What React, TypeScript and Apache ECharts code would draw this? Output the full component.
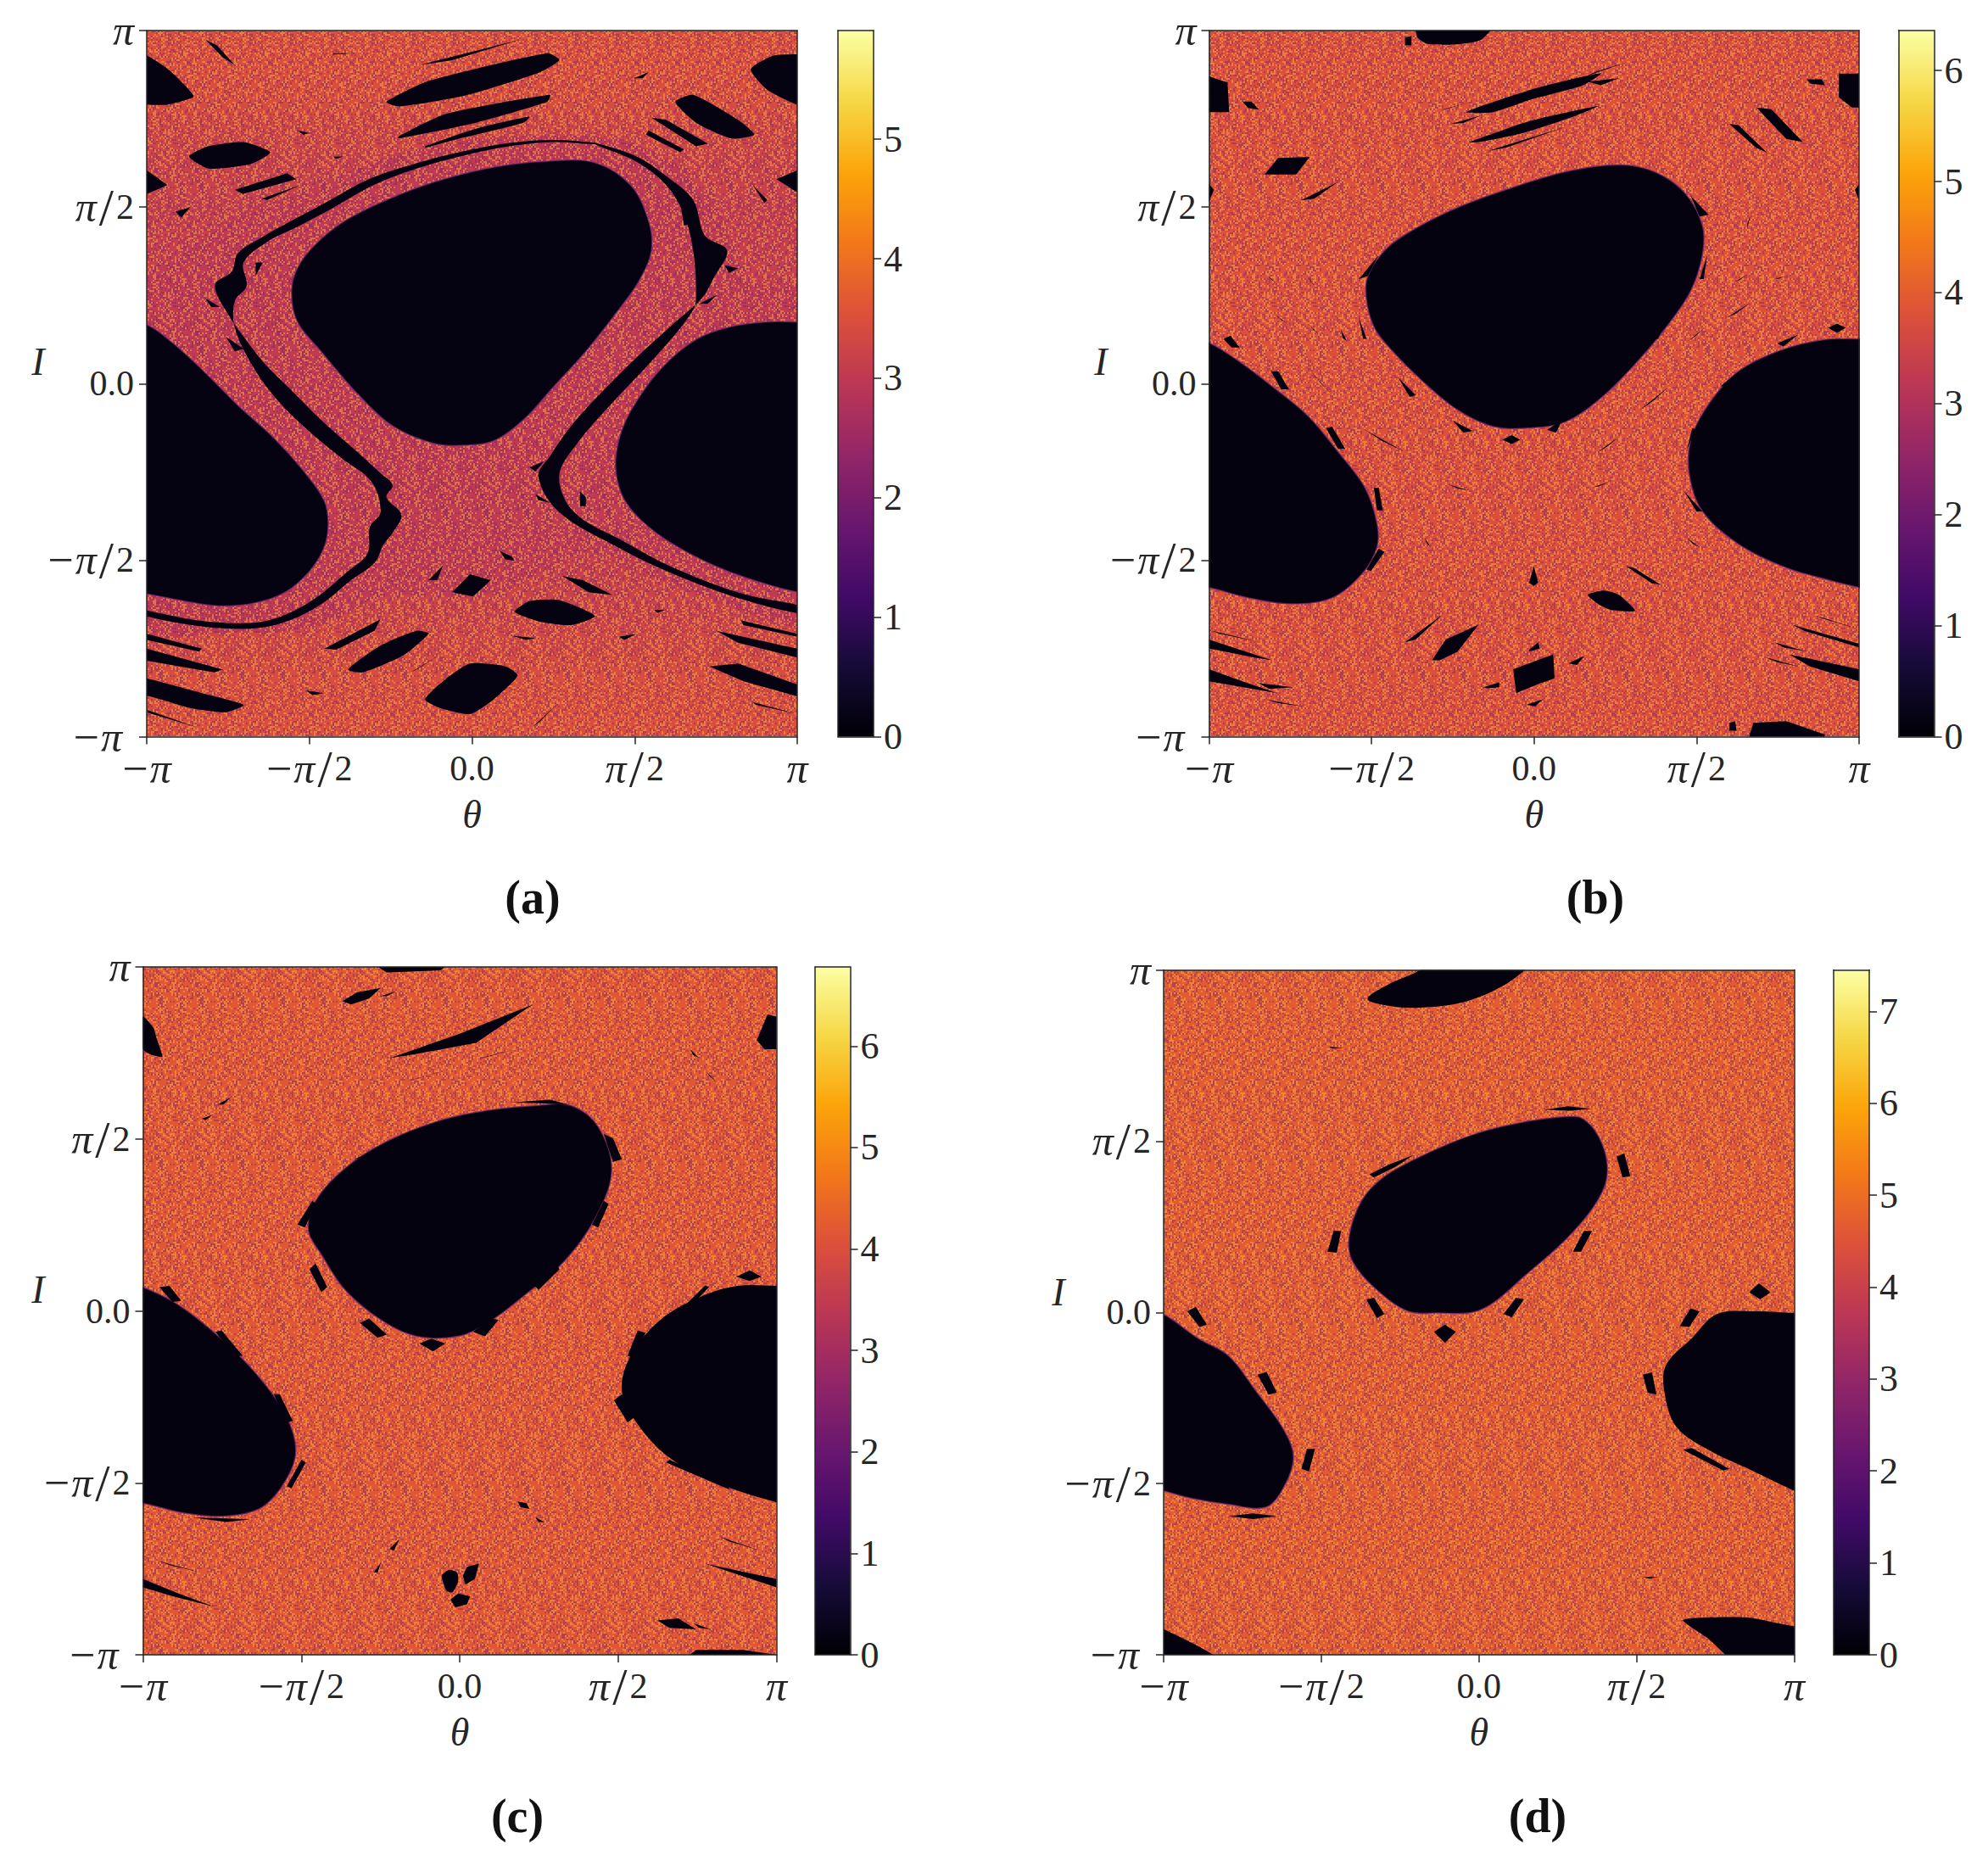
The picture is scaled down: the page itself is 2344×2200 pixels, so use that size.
import React, { useEffect, useRef } from "react";
import * as echarts from "echarts";

// All coordinates are [θ, I] pairs in hundredths of π (axis range -100..100).
const tickValues = [-100, -50, 0, 50, 100];
const tickLabels = ["−π", "−π/2", "0.0", "π/2", "π"];

// Colour map of the colour bars (inferno)
const infernoStops = ["#000004", "#160b39", "#420a68", "#6a176e", "#932667", "#bc3754", "#dd513a", "#f37819", "#fca50a", "#f6d746", "#fcffa4"];

// Colour bar ranges and ticks
const barMaxA = 5.91, barMaxB = 6.36, barMaxC = 6.78, barMaxD = 7.45;
const barTicksA = [0, 1, 2, 3, 4, 5];
const barTicksB = [0, 1, 2, 3, 4, 5, 6];
const barTicksC = [0, 1, 2, 3, 4, 5, 6];
const barTicksD = [0, 1, 2, 3, 4, 5, 6, 7];

// Typical value of the chaotic sea against I: [I, value], top to bottom
const seaProfileA = [[100, 3.5], [82, 3.45], [70, 3.3], [52, 3.14], [-52, 3.14], [-68, 3.3], [-84, 3.45], [-100, 3.5]];
const seaProfileB = [[100, 3.8], [-100, 3.8]];
const seaProfileC = [[100, 4.18], [-100, 4.18]];
const seaProfileD = [[100, 4.68], [-100, 4.68]];
const islandValue = 0.14;

// Panel (a): zone next to the ribbons where the sea is lowest [value, outline]
const toneA: [number, number[]][] = [
  [3.02, [-84.8, 41, -53.7, 54, -17.1, 66.3, 25, 70.3, 54.3, 66.3, 74.4, 51, 85.3, 29.3, 106, 24.2, 106, -65, 65.2, -58.3, 37.8, -48, 19.5, -54.5, 1.2, -60.3, -26.3, -60.3, -48.2, -68.7, -72, -70.4, -106, -67, -106, 20.6]],
];
const toneB: [number, number[]][] = [];
const toneC: [number, number[]][] = [];
const toneD: [number, number[]][] = [];

const islandsA: number[][] = [
  // central island and the two wrapping lobes
  [23.1, 63, 37.8, 62.6, 48.8, 56.2, 54.3, 46.1, 55.2, 37.7, 51.5, 29.3, 45.1, 20.9, 35, 9.1, 25, -1, 15.8, -10.3, 6.7, -16.2, -2.5, -17.5, -11.6, -17, -24.4, -12, -35.4, -2.7, -46.4, 9.1, -53.7, 17.5, -55.5, 25.9, -53.7, 32.7, -48.2, 39.4, -39.1, 46.1, -26.3, 52, -11.6, 57.1, 6.7, 61.3],
  [106, 17.5, 100, 17.5, 90.8, 17.5, 79.9, 16.2, 68.9, 12.5, 57.9, 4, 48.8, -7.7, 45.1, -16.2, 44.2, -24.6, 46.9, -33, 54.3, -40.6, 65.2, -47.3, 78, -52.9, 90.8, -56.9, 100, -59.1, 106, -60],
  [-106, 17, -100, 16.7, -92.1, 11.6, -83, 4, -72, -6.1, -61, -15.3, -51.9, -24.6, -45.5, -33, -44.2, -39.7, -45.5, -46.5, -50, -53.2, -57.4, -59.1, -66.5, -62.1, -77.5, -63, -88.5, -61.6, -100, -59.6, -106, -58.5],
  // the two dark ribbons round the central island
  [37.8, 68.2, 25, 69, 12.2, 68.2, -2.5, 65.8, -17.1, 62.4, -31.7, 57.9, -44.6, 51.5, -55.5, 46.1, -64.7, 41.4, -72, 36.9, -73.8, 31.8, -79, 27.9, -74.7, 19.2, -70.2, 13.3, -63.8, 5.7, -55.5, -1.9, -46.4, -10.3, -37.2, -17.8, -28.1, -25.4, -24.4, -28.8, -26.3, -32.2, -21.7, -37.2, -24.4, -42.3, -27.2, -45.6, -29.9, -50.7, -37.2, -55.7, -46.4, -62.5, -57.4, -67.5, -68.3, -69.4, -84.8, -68.6, -104, -65, -104, -63.7, -84.8, -67, -68.3, -67.8, -58.3, -65.8, -48.2, -60.8, -38.2, -53.2, -32.1, -48.1, -31.4, -40.6, -28.1, -36.4, -30.8, -27.9, -40, -21.2, -50, -13.6, -60.1, -4.4, -67.4, 4.9, -72.9, 15.8, -72.9, 23.4, -69.3, 27.6, -70.2, 34.3, -62.9, 40.2, -53.7, 44.4, -42.7, 49.8, -29.9, 56.4, -15.3, 61.4, -0.6, 65, 12.2, 67.3, 25, 68.4, 37.8, 67.8],
  [37.8, 68.2, 50.6, 64.3, 59.7, 58.8, 68, 52, 71.6, 41.9, 78.4, 37.7, 74.4, 30.1, 70.7, 24.2, 61.6, 16.7, 50.6, 7.4, 39.6, -2.7, 30.5, -12, 24.1, -20.4, 20.4, -26.3, 26.8, -36.4, 45.1, -46.5, 61.6, -53.8, 83.5, -61.2, 104, -65.6, 104, -63.6, 83.5, -59.6, 61.6, -52, 46.9, -44.8, 31.4, -36.4, 26.8, -26.3, 32.3, -17, 44.2, -4.4, 57.9, 9.1, 68, 20.9, 68.9, 25.9, 68, 37.7, 65.2, 47.8, 59.7, 56.2, 50.6, 62.8, 37.8, 67.8],
  // upper region
  [-106, 93, -100, 92.9, -93, 88.7, -87.5, 83.7, -85.6, 81.2, -93.8, 79, -100, 79, -106, 79],
  [-82, 97.5, -78.4, 95.8, -72.9, 90.2, -76.6, 92.4],
  [106, 93.3, 100, 93.3, 92.7, 92.9, 85.7, 89, 90.8, 83.2, 100, 79, 106, 78],
  [-26.3, 79.8, -13.4, 85.7, 23.1, 93.6, 26.8, 91.6, 20.4, 88, -2.5, 81.5, -22.6, 78.5],
  [-16.2, 90.2, 15, 97.5, -6.1, 91.6],
  [-22.6, 70, -8, 76.4, 24, 81.8, 23.1, 79.8, 1.2, 73.9, -22.6, 69.4],
  [-14.4, 67.2, 1.2, 72.2, 17.7, 75.6, 15.8, 73.9, -2.5, 69.7, -14.4, 66.8],
  [62.5, 79.8, 68, 81.8, 81.8, 74.7, 86.8, 70.5, 79.9, 69.4, 68.9, 73.9],
  [55.2, 75.3, 59.7, 74.7, 72.5, 68, 68.9, 67.2],
  [54.3, 71.7, 65.2, 66.3, 64, 65.5, 53.5, 70.5],
  [-87, 64.3, -81.1, 67.2, -70.2, 68.4, -62, 65.5, -68.3, 62.1, -81.1, 60.9],
  [-72.9, 54.9, -56.8, 59.6, -54, 57.9, -70.5, 53.7],
  [-64.7, 52.4, -52.8, 56.2, -62.9, 52],
  [-100, 60.4, -93.6, 56.2, -100, 53.7],
  [-91.2, 48.7, -86.6, 50, -89.4, 47],
  [100, 60.4, 93.6, 57.9, 100, 54.2],
  [86.3, 56.2, 90.8, 52, 89.9, 51.2],
  [49.6, 86.5, 54.3, 88.2, 52.4, 86.5],
  [-53.7, 71.7, -50, 71, -51.9, 70.5],
  [-42.7, 64.3, -39.6, 64.3, -41.8, 63.6],
  [-42.7, 93.6, -35.4, 93.6, -42.7, 93.2],
  // beside the ribbons
  [-82.1, 24.2, -77.5, 21.7, -80.2, 21.7],
  [-66.5, 34.3, -64.3, 34.3, -66.5, 30.6],
  [-75.7, 13.3, -70.2, 9.9, -72.9, 9.1],
  [64.3, 49.5, 68, 45.3, 65.2, 44.8],
  [69.8, 22.6, 75.3, 25.1, 72.5, 22.6],
  [57, 10.8, 60.6, 12.5, 57.9, 9.9],
  [77.7, 33.5, 81.8, 32.7, 79, 31.3],
  [33.2, -30.5, 35, -32.2, 35, -34.7, 33.2, -34.7],
  [19.5, -31.3, 24.1, -33.8, 20.4, -33],
  [17.7, -23.7, 22.2, -22, 19.5, -24.9],
  // lower region
  [8.5, -47.3, 12.2, -49, 13.1, -50.2, 10.3, -49.8],
  [-13.4, -55.7, -8.9, -51.5, -10.7, -55.7],
  [-6.1, -59.1, -0.6, -54, 5.8, -55.7, 0.3, -60.3],
  [27.7, -54.5, 34.1, -55.7, 43.2, -59.9, 35.9, -59.1],
  [13.1, -64.6, 17.7, -61.6, 26.8, -61.3, 37.8, -65.8, 30.5, -68.4, 21.3, -67.5],
  [-45.4, -75.1, -28.1, -66.7, -30, -70, -41.8, -75.4],
  [-38.1, -81, -28.1, -74.2, -17.1, -70, -13.4, -70.8, -20.8, -76.8, -33.6, -81.8],
  [-18.9, -81.8, -9.8, -76.8, -17.1, -81],
  [-14.4, -89.4, -8.9, -84.3, -0.6, -79.3, 10.3, -80.1, 14, -82.7, 6.7, -89.4, -0.6, -93.6, -9.8, -91.9],
  [18.6, -97.3, 26.8, -90.2, 20.4, -96.1],
  [-100, -70.9, -83, -75.1, -83.9, -75.9, -100, -72.6],
  [-100, -75.1, -76.6, -81, -79.2, -81.8, -100, -78.5],
  [-106, -82.5, -100, -83.5, -83, -87.7, -70.2, -91, -75.7, -93.1, -86.6, -91.9, -100, -88.4, -106, -89],
  [-100, -92.4, -84.8, -97.3, -99.5, -93.3],
  [75.2, -70, 100, -75.1, 100, -77.6, 81.8, -73.4],
  [73, -80.1, 81.8, -79.3, 100, -85.2, 100, -88.6, 83.5, -84.3],
  [82.6, -67, 100, -70.9, 100, -71.7, 83.5, -68.4],
  [86.3, -90.2, 100, -93.6, 87.2, -91],
  [-51, -86.9, -45.5, -87.7, -49.1, -88.2],
  [45.1, -71.7, 50.6, -70.9, 46.9, -72.6],
  [12.2, -71.4, 19.5, -72.1, 16.7, -72.6],
  [56.1, -64.1, 59.4, -64.1, 57, -65],
];

const islandsB: number[][] = [
  [26.1, 62, 37.1, 60, 46.3, 54.1, 51.8, 44.8, 51.8, 36.4, 48.2, 26.2, 40.8, 16.1, 31.6, 6, 20.6, -4.1, 9.6, -10.9, -1.5, -12.6, -12.5, -12.2, -23.5, -7.5, -34.6, 0.9, -43.8, 9.4, -49.3, 16.1, -51.7, 24.6, -51.1, 30.5, -45.6, 38.1, -36.4, 44, -23.5, 49.9, -8.8, 54.9, 9.6, 60],
  [-106, 13, -100, 11.6, -91.5, 6.8, -80.5, -0.8, -69.5, -9.2, -60.3, -19.3, -52, -29.5, -48.3, -39.6, -48.3, -46.3, -52.9, -53.9, -62.1, -60.7, -75, -62.4, -87.9, -60.7, -100, -57.8, -106, -57],
  [106, 12.7, 100, 12.7, 88.6, 12.4, 75.7, 9.4, 62.9, 3.5, 53.7, -5.8, 48.2, -15.9, 47.8, -26.1, 51.8, -36.2, 62.9, -45.5, 77.6, -52.2, 90.4, -55.6, 100, -57.8, 106, -59],
  [-36, 104, -10.7, 104, -16.2, 97.4, -23.5, 96.1, -32.7, 96.2, -36, 98.2],
  [-39.7, 98, -37.7, 98.5, -37.7, 95.8, -39.7, 95.8],
  [64.7, -104, 67.5, -96.1, 77.6, -95.6, 89.5, -99.4, 88.6, -104],
  [60.1, -96.1, 61.9, -95.6, 62.3, -98.3, 60.1, -98.3],
  [-20.8, 76.9, 0.4, 83.6, 20.6, 87.9, 15.1, 84.5, -1.5, 80.3, -12.5, 76.9],
  [16, 87, 28.9, 91.2, 18.8, 88.3],
  [16.5, 85.5, 26.1, 86.5, 20.6, 84.5],
  [-29, 77.4, -19, 79.9, -27.2, 77.7],
  [-25.7, 73.5, -16.2, 76, -21.7, 73.8],
  [-19.9, 68.4, -1.5, 74.3, 19.7, 78.6, 13.2, 76, -3.3, 71, -17.1, 68.4],
  [-14.3, 65.9, 9.6, 72.7, -8.8, 66.8],
  [68.4, 78.2, 73, 77.7, 82.7, 68.4, 77.6, 69.3],
  [60.1, 73.5, 62.9, 73.2, 71.7, 65.4, 68.4, 66.8],
  [-100, 87, -94.3, 85.3, -93.8, 76.9, -100, 76.9],
  [-89.7, 79.9, -86.9, 79.9, -84.6, 77.6, -87.9, 78],
  [93.8, 87.8, 100, 87.8, 100, 78.2, 97.8, 78.2, 93.8, 81.1],
  [84, 86.2, 88.6, 86.2, 89.5, 84.5, 84.9, 85],
  [-82.9, 59.2, -78.7, 63.9, -69, 64.2, -73.2, 59.2],
  [-71.7, 51.9, -60.3, 57.1, -67.6, 52.4],
  [-100, 56.6, -98.5, 54.9, -100, 51.6],
  [100, 56.6, 98.7, 54.9, 100, 51.8],
  [-53.9, 29.6, -47.8, 36.4, -51.1, 30.5],
  [50.9, 29.6, 53.3, 36.4, 52.2, 29.6],
  [-53.9, 18.7, -51.5, 12.7, -52.6, 12.7],
  [36.2, 12.7, 41.7, 19.5, 38.1, 12.7],
  [48.2, 53.2, 53.7, 47.8, 50.9, 47.3],
  [-41.9, 1.8, -36.4, -3.3, -38.2, -3.8],
  [17.8, -3.8, 24.3, 1.8, 20.6, -3.8],
  [-25, -10.5, -18.9, -13.4, -21.7, -13.9],
  [4, -13.1, 8.6, -10.4, 6.8, -13.9],
  [-9.7, -15.9, -6.9, -14.6, -4.2, -15.9, -6.9, -17.1],
  [-95.6, 12.7, -93.4, 13.6, -90.6, 10.2, -93, 10.2],
  [-80.9, 3.5, -78.7, 3.5, -75.4, -1.6, -77.8, -1.6],
  [-64, -12.6, -62.1, -12.2, -58.1, -18.5, -60.3, -18.5],
  [-49.3, -29.5, -47.8, -29.5, -46.5, -35.9, -48.3, -35.9],
  [-51.5, -52.7, -47.8, -46.7, -46, -47.7, -50.2, -53.1],
  [47.2, -18, 48.7, -12.6, 49.6, -12.9, 47.2, -18.5],
  [46, -30.3, 51.8, -36.2, 50, -36.2],
  [57.4, -0.7, 63.8, 4, 60.1, -1.1],
  [74.8, 11.4, 81.3, 13.9, 76.7, 10.5],
  [90.4, 15.8, 93.2, 17, 95.9, 15.8, 93.2, 14.4],
  [-1.5, -56.4, -0.1, -51.7, 1.3, -56.4, -0.1, -57.3],
  [28.3, -51.7, 30.7, -52.2, 39, -57, 36.2, -56.5],
  [16.5, -59.8, 21.5, -58.6, 26.1, -59.8, 31.1, -64.4, 23.3, -64, 19.7, -62.4],
  [-39.7, -73.3, -28.1, -65.4, -36.4, -72.5],
  [-31.4, -78.4, -27.2, -72.5, -17.1, -68.3, -23.5, -75.9, -29, -78.4],
  [-1.5, -75.4, 1.3, -73.3, 1.8, -75, -1.5, -75.9],
  [-6.4, -80.9, 5.9, -76.7, 6.3, -83.5, 1.3, -85.1, -5.5, -87.7],
  [-15.6, -86, -10.7, -84.6, -10.7, -86, -14.3, -86.3],
  [10.5, -79.2, 15.4, -77.2, 13.2, -79.7],
  [-2.4, -91, 2.6, -89.4, 0.4, -91.4],
  [-100, -72.5, -80.5, -78.4, -86, -77.6, -100, -75],
  [-100, -80.9, -89.7, -84.3, -79, -87.7, -100, -84.3],
  [-84.9, -84.8, -74.1, -86, -81.4, -86.5],
  [-82.4, -89.4, -70.8, -91.5, -78.7, -90.5],
  [-99, -70, -84.2, -73.3, -97, -70.8],
  [79.4, -68.3, 100, -73.7, 100, -74.7, 83.1, -70],
  [78.5, -76.7, 100, -80.9, 100, -84.3, 84.9, -80.1],
  [73.9, -73.3, 84, -75.9, 76.7, -74.7],
  [71.1, -77.5, 81.3, -80.1, 74.8, -78.9],
  [86.8, -65.7, 100, -69.6, 88.6, -66.5],
  // thin dashes across the sea
  [-82, 30.5, -79.6, 28.8, -80.5, 29.2],
  [-70.4, 31.6, -67.6, 27.6, -68.6, 28.8],
  [-79.6, 19.5, -75.9, 17, -77.6, 17.9],
  [-70.4, 17.8, -65.8, 13.6, -67.6, 15],
  [-59.4, 15.3, -57.5, 11.9, -58.9, 13],
  [61.9, 28.8, 65.6, 31, 63.4, 29.4],
  [73.9, 29.6, 77.6, 30.5, 75.4, 29.7],
  [47.2, 11.9, 52.8, 16.1, 49.6, 13.4],
  [59.2, 18.6, 66.5, 22.9, 62.4, 20],
  [65.6, 44, 66.5, 47.3, 65.7, 45.5],
  [-52.9, -12.6, -40, -19.3, -46.8, -16.2],
  [-38.2, -28.6, -33.6, -32, -35.6, -30.6],
  [-26.3, -28.6, -19.9, -30.3, -23.2, -29.8],
  [17.8, -29.4, 23.3, -27.8, 20.2, -29],
  [30.7, -31.1, 33.5, -28.1, 31.9, -29.9],
  [19.7, -19.3, 26.1, -15.1, 22.6, -17.8],
  [32.5, -7.5, 41.7, -0.7, 36.6, -4.9],
  [-69.5, 4.3, -62.1, -3.3, -65.6, 0.1],
  [-33.6, -43.8, -31.8, -46.3, -32.9, -45.4],
  [47.2, -43.8, 50.9, -46.3, 48.8, -45.4],
];

const islandsC: number[][] = [
  [23.9, 59.7, 35.2, 59.7, 43.7, 53.6, 48, 40.7, 42.7, 26.8, 33.3, 14.7, 20.2, 4.3, 8.9, -3.5, -0.5, -7.4, -13.6, -7.4, -24.9, -2.6, -36.2, 6.1, -43.7, 16.4, -47.8, 23.4, -45.5, 32, -36.2, 41.5, -23, 49.3, -6.1, 55.4, 8.9, 58.3],
  [-106, 8, -100, 6.9, -88.7, 1.7, -75.6, -7.8, -64.3, -18.2, -54.9, -30.3, -51.7, -40.7, -54.9, -49.3, -62.4, -57.1, -73.7, -59.7, -86.9, -58.8, -100, -55.9, -106, -55],
  [106, 7.3, 100, 7.3, 87.8, 7.3, 76.5, 4.3, 63.4, -2.6, 54, -13, 51.2, -23.4, 56.8, -33.7, 67.1, -43.3, 84, -51, 100, -55.7, 106, -57],
  [-32.8, 104, 1.4, 104, -6.1, 99, -23, 98.4],
  [67.1, -104, 74.6, -98.6, 89.7, -98.6, 100, -100, 106, -104],
  [-22.1, 73.5, -0.5, 80.4, 23, 89, 5.2, 77.9, -15.5, 74.4],
  [5.2, 73.2, 17.4, 76.1, 8.9, 73.9],
  [-17.4, 66.6, -4.2, 70, -13.6, 67.5],
  [-37.1, 90, -32.4, 92.6, -24.9, 93.9, -28.6, 90.8, -34.3, 89.1],
  [-25, 91.5, -20, 93, -23, 91.5],
  [-81.2, 55.9, -77.8, 57.1, -80.3, 55.4],
  [-76.5, 60, -72.2, 62.1, -74.6, 60],
  [-100, 85.6, -96.6, 82.2, -95.8, 79.6, -93.9, 73.9, -97.1, 74.4, -100, 76.1],
  [97.2, 86.2, 100, 85.6, 100, 76.1, 96.2, 76.1, 93.8, 78.7],
  [72.8, 76.1, 75.6, 73.5, 73.7, 74.4],
  [77.8, 69.7, 81.2, 66.3, 78.8, 68.3],
  [45.5, 51.4, 48.4, 50.2, 51.2, 44.1, 48.4, 43.3],
  [41.8, 25.1, 45.5, 32, 47, 31.1, 43.7, 24.2],
  [-51.2, 25.1, -46.5, 32, -45.2, 31.1, -48.9, 24.2],
  [-47.4, 12.1, -45.5, 13.8, -41.8, 6.9, -43.7, 5.5],
  [23, 7.8, 30.5, 13.8, 31.5, 12.1, 24.9, 6.1],
  [-31.5, -3.5, -28.6, -2.2, -23, -6.9, -25.9, -7.8],
  [4.2, -6.1, 9.9, -2.2, 12.3, -2.6, 8, -7.4],
  [-12.7, -9.5, -8.9, -8.1, -4.6, -9.5, -8.4, -11.8],
  [16.4, 60.6, 28.6, 61.4, 34.3, 60, 23.9, 60.4],
  [-33.3, 44.1, -15.5, 51, -28.6, 45],
  [-94.8, 6.9, -91.6, 7.3, -87.9, 2.9, -90.7, 2.6],
  [-77.1, -6.1, -75.2, -5.7, -68.5, -13, -70.9, -13.3],
  [-58.7, -24.2, -56.8, -24.2, -52.7, -32, -54.6, -32.4],
  [-54.6, -51, -49.9, -43.3, -48.6, -44.1, -53.1, -51.6],
  [-84.9, -60, -66.2, -60.6, -73.7, -61.4],
  [71.8, 2.2, 77.5, 7.4, 78.7, 6.9, 73.8, 2.2],
  [87.4, 9.9, 91.5, 11.8, 95.3, 9.9, 91.5, 8.7],
  [53, -13, 56.2, -5.7, 58.7, -6.4, 54.4, -13.5],
  [48.7, -26, 51.2, -24.2, 55, -31.1, 53, -32.4],
  [66.2, -43.3, 85, -51, 85, -51.9, 65.2, -44.1],
  [18.3, -55.4, 21.1, -55.9, 22, -57.6, 19.2, -57.1],
  [23.9, -60, 26.8, -61.4, 24.9, -61.4],
  [-22.1, -69.2, -18.9, -66.3, -20.8, -69.7],
  [-27.1, -76.1, -24.9, -73.2, -25.9, -76.1],
  [-5.7, -77, -3.3, -75.3, -0.8, -76.1, -0.5, -78.7, -2.3, -81.8, -4.2, -81.3],
  [2.3, -74.4, 6.1, -73.5, 4.8, -77.9, 1.8, -79.6, 1, -77],
  [-2.9, -83.9, -0.5, -82.2, 3.3, -83, 2.3, -85.3, -1.4, -86.2],
  [-100, -77.9, -88.7, -82.2, -77.5, -86, -90.6, -83, -100, -80.4],
  [-95.3, -72.7, -81.7, -76.1, -91.6, -73.9],
  [77.5, -73.5, 100, -77.9, 100, -80.4, 85.9, -76.1],
  [82.2, -65.7, 94.9, -69.7, 85, -67],
  [62.4, -90, 69, -89.4, 74.6, -92.6, 66.2, -92.2],
  [73.7, -90.8, 79.3, -92.6, 75.6, -92.2],
];

const islandsD: number[][] = [
  [26.5, 57.1, 33.3, 56.4, 39.2, 49, 40.6, 39.4, 36.3, 30.7, 26.5, 20.3, 14.7, 10.8, 4.9, 3, -2, 0, -12.7, -0.2, -22.5, 0.3, -33.3, 7.3, -40.2, 15.1, -41.2, 22, -37.3, 32.5, -30.4, 39.4, -18.6, 45.5, -2.9, 51.6, 10.8, 55],
  [-106, 1, -100, -0.5, -89.2, -7.5, -79.4, -12.7, -70.6, -23.1, -61.8, -34.4, -58.8, -42.2, -61.8, -50.9, -67.6, -56.9, -79.4, -56.1, -91.2, -54.3, -100, -52.1, -106, -50.5],
  [106, -0.5, 100, -0.2, 87.3, 0.3, 75.5, -0.5, 67.6, -7.5, 59.4, -15.3, 58.8, -23.1, 62.7, -33.5, 73.5, -40.5, 87.3, -46.5, 100, -52.1, 106, -54],
  [-35.3, 91.5, -28.4, 95.9, -18.6, 100, -14, 104, 19, 104, 14.7, 100, 6.9, 95, -4.9, 90.6, -18.6, 89, -28.4, 89.5],
  [64.7, -89.9, 71.6, -89.1, 85.3, -89.1, 100, -91.7, 106, -92, 106, -104, 84, -104, 72.5, -95.1],
  [-106, -90, -100, -92.5, -92.2, -96, -84.3, -100, -80, -104, -106, -104],
  [20.6, 59.2, 28.4, 60.2, 35.9, 59.4, 28.4, 58.9],
  [-34.7, 40.3, -28.4, 43.2, -20.6, 46, -26.5, 42.5, -33.3, 39.4],
  [43.7, 45.5, 46.1, 46.4, 48, 39.8, 45.5, 39.4],
  [29.8, 17.7, 33.3, 23.8, 35.9, 23.8, 32.4, 17.7],
  [-48, 17.7, -46.1, 23.8, -43.7, 23.8, -45.1, 17.4],
  [-35.7, 3.8, -33.3, 4.3, -30, -0.5, -32.4, -1.7],
  [7.8, -0.5, 11.8, 4.3, 14.3, 3.8, 10.4, -1.4],
  [-14.3, -5.7, -10.8, -3.6, -7.3, -5.7, -10.8, -8.9],
  [-92.5, 0.3, -89.8, 1.6, -86.3, -3.6, -88.6, -4.3],
  [-70.2, -18.2, -67.3, -17.4, -64.1, -23.4, -66.7, -24],
  [-56.3, -45.7, -54.5, -39.9, -52, -39.9, -53.9, -46.5],
  [-79.4, -59.5, -71.6, -58.7, -64.1, -59.5, -71.6, -60.4],
  [63.7, -4, 67.1, 1.2, 70, 0.3, 66.7, -4.3],
  [85.7, 5.9, 88.8, 8.5, 92.5, 5.9, 89.2, 3.8],
  [52, -18.2, 54.9, -17.5, 56.3, -24, 53.5, -23.4],
  [64.7, -40.1, 67.6, -39.6, 79.4, -45.7, 77.5, -46.2],
  [-48, 77.6, -43.1, 77.3, -46.1, 77],
  [52, -77.3, 56.9, -77.3, 53.9, -77.8],
];

// Grain tile for the chaotic sea: d = darker speck, o = brighter speck, . = none
const grainRows = [
  "o.d.oo.d..o.dd.o..d.o.do",
  ".do..d.oo.d..o.dd.o..o.d",
  "d.o.d..o.do.o.d...od.d.o",
  "oo.d.o.d..d.oo.d.o..o.d.",
  ".d..oo..do.d..o.oo.d.d.o",
  "d.od..d.o..o.d.d..o.o.d.",
  ".o.d.o.oo.d..dd.o.d..oo.",
  "o.d..d..d.o.o..o.d.od..d",
  ".d.oo.d.o.dd.o.d..o.d.o.",
  "d..o.d.o..o..d.oo.d..o.d",
  "o.dd.o..d.oo.d..d.o.o.d.",
  ".o..d.oo.d..o.d.o..dd.oo",
  "d.o.o.d..o.d.d.o.dd..o.d",
  ".d.d..o.d.o.o.oo..o.d.o.",
  "oo..o.d.od.d...d.o.d.d.o",
  ".d.o.d.o..o.dd.o.d..o.d.",
  "d.o..dd.o.d..o..o.d.oo.d",
  "o.d.o..d.o.oo.d.d.o..d.o",
  ".o.d.oo.d..d.o.o.d.d.o..",
  "d..o.d..oo.d.d.oo.o..dd.",
  ".dd.o.d.o.d.o..d..d.o.oo",
  "o..d.o.d..o.d.oo.d.o.d..",
  ".o.d..oo.d.o.d..o.dd.o.d",
  "d.o.dd.o..d.o.o.d..o.d.o",
];
const grainCell = 2;
const grainTileCells = 96;

// Page layout (pixels)
const panels = [
  { name: "(a)", plot: [173, 36, 767, 832.5], bar: [988, 36, 42, 832.5], barMax: barMaxA, barTicks: barTicksA, sea: seaProfileA, tone: toneA, islands: islandsA, label: [628, 1058], iLabel: [45, 426] },
  { name: "(b)", plot: [1425.5, 36, 766.5, 832.5], bar: [2238.5, 36, 42, 832.5], barMax: barMaxB, barTicks: barTicksB, sea: seaProfileB, tone: toneB, islands: islandsB, label: [1881, 1058], iLabel: [1298, 426] },
  { name: "(c)", plot: [168.5, 1140, 747, 811], bar: [961, 1140, 41.5, 811], barMax: barMaxC, barTicks: barTicksC, sea: seaProfileC, tone: toneC, islands: islandsC, label: [610, 2141], iLabel: [45, 1520] },
  { name: "(d)", plot: [1372, 1143.5, 743.5, 807.5], bar: [2162, 1143.5, 42, 807.5], barMax: barMaxD, barTicks: barTicksD, sea: seaProfileD, tone: toneD, islands: islandsD, label: [1813, 2141], iLabel: [1248, 1523] },
];

const SERIF = "'Liberation Serif', serif";
const INK = "#262626";
const TICK_FONT = 42;
const LABEL_LINE = 36;

function hexToRgb(h: string) {
  return [parseInt(h.slice(1, 3), 16), parseInt(h.slice(3, 5), 16), parseInt(h.slice(5, 7), 16)];
}
function inferno(t: number) {
  const p = Math.max(0, Math.min(1, t)) * (infernoStops.length - 1);
  const i = Math.min(infernoStops.length - 2, Math.floor(p));
  const a = hexToRgb(infernoStops[i]), b = hexToRgb(infernoStops[i + 1]);
  const f = p - i;
  return `rgb(${a.map((v, k) => Math.round(v + (b[k] - v) * f)).join(",")})`;
}
function makeGrain() {
  const c = document.createElement("canvas");
  c.width = grainTileCells * grainCell;
  c.height = grainTileCells * grainCell;
  const g = c.getContext("2d")!;
  const n = grainRows.length;
  for (let r = 0; r < grainTileCells; r++) {
    const row = grainRows[(r * 5) % n];
    for (let k = 0; k < grainTileCells; k++) {
      const ch = row[(k * 7 + (r * r) % 11) % n];
      if (ch === ".") continue;
      g.fillStyle = ch === "d" ? "rgba(120,35,110,0.45)" : "rgba(250,170,70,0.5)";
      g.fillRect(k * grainCell, r * grainCell, grainCell, grainCell);
    }
  }
  return c;
}
function pointsOf(flat: number[]) {
  const out: number[][] = [];
  for (let i = 0; i < flat.length; i += 2) out.push([flat[i], flat[i + 1]]);
  return out;
}

function buildOption() {
  const grain = makeGrain();
  const grid: any[] = [], xAxis: any[] = [], yAxis: any[] = [], series: any[] = [], graphic: any[] = [];
  const line = { show: true, onZero: false, lineStyle: { color: INK, width: 1.5 } };
  const labelRich = {
    i: { fontFamily: SERIF, fontStyle: "italic", fontSize: 50, color: INK, lineHeight: LABEL_LINE },
    // π of the lowest I label: kept clear of the θ label just below it
    e: { fontFamily: SERIF, fontStyle: "italic", fontSize: 50, color: INK, lineHeight: LABEL_LINE, padding: [0, 14, 0, 0] },
    m: { fontFamily: SERIF, fontSize: 54, color: INK, lineHeight: LABEL_LINE, padding: [0, 2, 0, 0] },
    s: { fontFamily: SERIF, fontSize: 62, color: INK, lineHeight: LABEL_LINE, padding: [0, 3, 0, 3] },
    n: { fontFamily: SERIF, fontSize: TICK_FONT, color: INK, lineHeight: LABEL_LINE },
  };
  const tickText = (v: number) => {
    const i = tickValues.indexOf(Math.round(v));
    if (i < 0) return "";
    return tickLabels[i].split("").map((ch) => (ch === "π" ? "{i|π}" : ch === "−" ? "{m|−}" : ch === "/" ? "{s|/}" : `{n|${ch}}`)).join("");
  };
  const tickTextI = (v: number) => (Math.round(v) === tickValues[0] ? tickText(v).replace("{i|π}", "{e|π}") : tickText(v));
  const frame = (gi: number, pos: string) => ({
    gridIndex: gi, type: "value", position: pos, z: 10, axisLine: line, axisTick: { show: false }, axisLabel: { show: false }, splitLine: { show: false },
  });

  panels.forEach((p) => {
    // plot
    const gi = grid.length;
    grid.push({ left: p.plot[0], top: p.plot[1], width: p.plot[2], height: p.plot[3], containLabel: false });
    const xi = xAxis.length, yi = yAxis.length;
    xAxis.push({
      gridIndex: gi, type: "value", position: "bottom", min: -100, max: 100, interval: 50, z: 10,
      axisLine: line, splitLine: { show: false },
      axisTick: { show: true, length: 9, lineStyle: { color: INK, width: 1.5 } },
      axisLabel: { show: true, margin: 19, formatter: tickText, rich: labelRich, fontFamily: SERIF, fontSize: TICK_FONT, color: INK, hideOverlap: false, showMinLabel: true, showMaxLabel: true },
      name: "θ", nameLocation: "middle", nameGap: 66, nameTextStyle: { fontFamily: SERIF, fontStyle: "italic", fontSize: 46, color: INK },
    });
    xAxis.push({ ...frame(gi, "top"), min: -100, max: 100 });
    yAxis.push({
      gridIndex: gi, type: "value", position: "left", min: -100, max: 100, interval: 50, z: 10,
      axisLine: line, splitLine: { show: false },
      axisTick: { show: true, length: 9, lineStyle: { color: INK, width: 1.5 } },
      axisLabel: { show: true, margin: 15, formatter: tickTextI, rich: labelRich, fontFamily: SERIF, fontSize: TICK_FONT, color: INK, showMinLabel: true, showMaxLabel: true },
    });
    yAxis.push({ ...frame(gi, "right"), min: -100, max: 100 });

    const common = { type: "custom", coordinateSystem: "cartesian2d", xAxisIndex: xi, yAxisIndex: yi, clip: true, silent: true };
    const rectOf = (params: any) => ({ type: "rect", shape: { x: params.coordSys.x, y: params.coordSys.y, width: params.coordSys.width, height: params.coordSys.height } });
    // sea, coloured by its profile against I
    series.push({
      ...common, name: `${p.name} sea`, z: 1, data: p.sea,
      renderItem: (params: any) => {
        if (params.dataIndex !== 0) return null;
        const stops = p.sea.map(([i, v]) => ({ offset: (100 - i) / 200, color: inferno(v / p.barMax) }));
        return { ...rectOf(params), style: { fill: new echarts.graphic.LinearGradient(0, 0, 0, 1, stops) } };
      },
    });
    // lower-valued zones
    if (p.tone.length) {
      series.push({
        ...common, name: `${p.name} zones`, z: 1, data: p.tone.map((t, i) => [i, t[0]]),
        renderItem: (params: any, api: any) => ({
          type: "polygon",
          shape: { points: pointsOf(p.tone[params.dataIndex][1]).map((q) => api.coord(q)), smooth: 0.4 },
          style: { fill: inferno(api.value(1) / p.barMax) },
        }),
      });
    }
    // grain
    series.push({
      ...common, name: `${p.name} grain`, z: 1, data: [[0]],
      renderItem: (params: any) => ({ ...rectOf(params), style: { fill: { image: grain, repeat: "repeat" } } }),
    });
    // islands
    series.push({
      ...common, name: `${p.name} islands`, z: 2, data: p.islands.map((_, i) => [i, islandValue]),
      renderItem: (params: any, api: any) => {
        const flat = p.islands[params.dataIndex];
        const big = flat.length >= 26 && flat.length < 70;
        return {
          type: "polygon",
          shape: { points: pointsOf(flat).map((q) => api.coord(q)), smooth: flat.length >= 20 ? 0.35 : flat.length >= 12 ? 0.2 : 0 },
          style: { fill: inferno(api.value(1) / p.barMax), stroke: big ? "rgba(125,45,120,0.7)" : undefined, lineWidth: big ? 1.5 : 0 },
        };
      },
    });

    // colour bar
    const bi = grid.length;
    grid.push({ left: p.bar[0], top: p.bar[1], width: p.bar[2], height: p.bar[3], containLabel: false });
    const bxi = xAxis.length, byi = yAxis.length;
    xAxis.push({ ...frame(bi, "bottom"), min: 0, max: 1 });
    xAxis.push({ ...frame(bi, "top"), min: 0, max: 1 });
    yAxis.push({
      gridIndex: bi, type: "value", position: "right", min: 0, max: p.barMax, z: 10,
      axisLine: line, splitLine: { show: false },
      axisTick: { show: true, length: 9, lineStyle: { color: INK, width: 1.5 }, customValues: p.barTicks },
      axisLabel: { show: true, margin: 12, customValues: p.barTicks, fontFamily: SERIF, fontSize: 44, color: INK, formatter: (v: number) => String(v) },
    });
    yAxis.push({ ...frame(bi, "left"), min: 0, max: p.barMax });
    series.push({
      type: "custom", coordinateSystem: "cartesian2d", xAxisIndex: bxi, yAxisIndex: byi, silent: true, name: `${p.name} colour bar`,
      data: [[0, 0, 1, p.barMax]],
      renderItem: (params: any, api: any) => {
        const a = api.coord([api.value(0), api.value(1)]);
        const b = api.coord([api.value(2), api.value(3)]);
        return {
          type: "rect",
          shape: { x: a[0], y: b[1], width: b[0] - a[0], height: a[1] - b[1] },
          style: { fill: new echarts.graphic.LinearGradient(0, 1, 0, 0, infernoStops.map((c, i) => ({ offset: i / (infernoStops.length - 1), color: c }))) },
        };
      },
    });

    // I axis title and panel letter
    graphic.push({
      type: "text", x: p.iLabel[0], y: p.iLabel[1],
      style: { text: "I", fill: INK, font: `italic 46px ${SERIF}`, textAlign: "center", textVerticalAlign: "middle" },
    });
    graphic.push({
      type: "text", x: p.label[0], y: p.label[1],
      style: { text: p.name, fill: "#111", font: `bold 56px ${SERIF}`, textAlign: "center", textVerticalAlign: "middle" },
    });
  });

  return { animation: false, backgroundColor: "#fff", grid, xAxis, yAxis, series, graphic, tooltip: { show: false } };
}

export default function App() {
  const ref = useRef<HTMLDivElement>(null);
  useEffect(() => {
    const chart = echarts.init(ref.current!, undefined, { renderer: "svg" });
    chart.setOption(buildOption() as any);
    return () => chart.dispose();
  }, []);
  return <div ref={ref} style={{ position: "absolute", left: 0, top: 0, width: 2344, height: 2200 }} />;
}
